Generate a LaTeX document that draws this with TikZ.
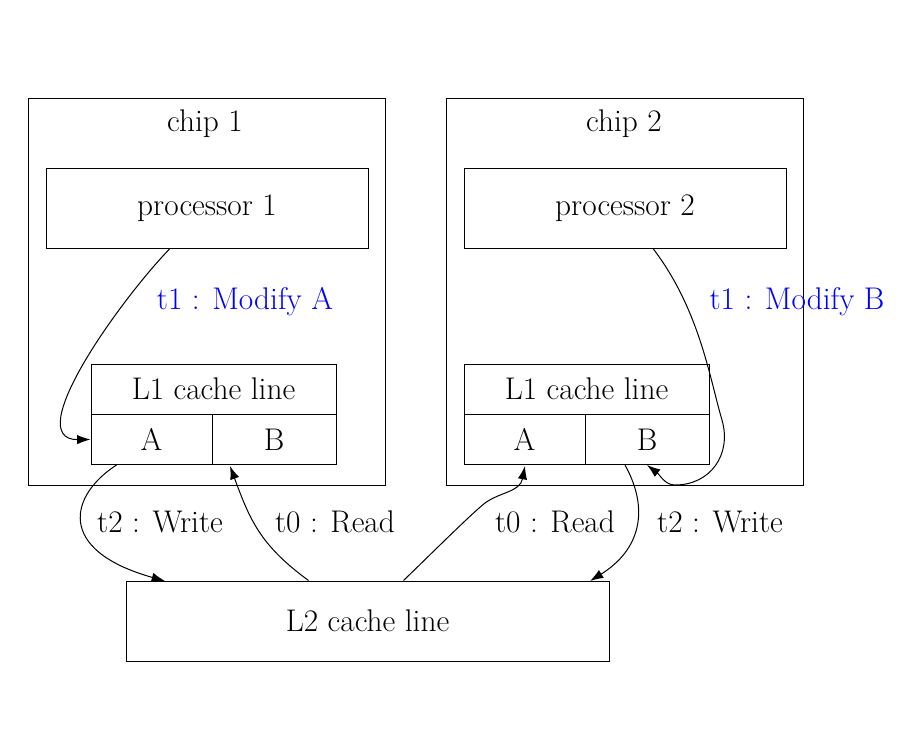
\documentclass[tikz,border=0pt]{standalone}
\usepackage{fontspec}
\setmainfont{Latin Modern Roman}
\usetikzlibrary{arrows.meta}
\begin{document}
\begin{tikzpicture}[x=0.75pt,y=-0.75pt,line width=0.75pt,
  every node/.style={font=\fontsize{23.5}{28}\selectfont},
  box/.style={draw,rectangle,inner sep=0pt,minimum height=60pt},
  cell/.style={draw,rectangle,inner sep=0pt,minimum height=37.5pt},
  arr/.style={-{Latex[length=10pt,width=7pt]}}]
\useasboundingbox (0,0) rectangle (921,750);
\draw (28,98) rectangle (385,485);
\draw (446,98) rectangle (803,485);
\node (c1) at (205,124) {chip 1};
\node (c2) at (624,124) {chip 2};
\node[box,minimum width=241.5pt] (p1) at (207,208) {processor 1};
\node[box,minimum width=241.5pt] (p2) at (625,208) {processor 2};
% L1 cache 1
\node[cell,minimum width=183.75pt] (h1) at (213.5,389) {L1 cache line};
\node[cell,minimum width=90.75pt] (a1) at (151.5,439.5) {A};
\node[cell,minimum width=93pt] (b1) at (274,439.5) {B};
% L1 cache 2
\node[cell,minimum width=183.75pt] (h2) at (586.5,389) {L1 cache line};
\node[cell,minimum width=90.75pt] (a2) at (524.5,439.5) {A};
\node[cell,minimum width=93pt] (b2) at (647,439.5) {B};
\node[box,minimum width=362.25pt] (l2) at (367.5,621) {L2 cache line};
% edges
\draw[arr] (p1.south) ++(-37,0) coordinate (s1) (s1) .. controls (120,300) and (20,440) .. (a1.west);
\node[text=blue] (m1) at (245,302) {t1 : Modify A};
\draw[arr] (p2.south) ++(28,0) coordinate (s2) (s2) .. controls (700,310) and (710,380) .. (722,420) .. controls (732,455) and (710,485) .. (675,485) .. controls (665,485) and (660,475) .. (b2.south);
\node[text=blue] (m2) at (797,302) {t1 : Modify B};
\draw[arr] (a1.south) ++(-35,0) coordinate (s3) (s3) .. controls (70,495) and (55,550) .. (165,581);
\node (w1) at (160,522) {t2 : Write};
\draw[arr] (l2.north) ++(-59,0) coordinate (s4) (s4) .. controls (260,545) and (250,520) .. (230,466);
\node (r1) at (335,522) {t0 : Read};
\draw[arr] (l2.north) ++(36,0) coordinate (s5) (s5) .. controls (430,555) and (470,515) .. (485,503) .. controls (500,492) and (520,492) .. (525,466);
\node (r2) at (555,522) {t0 : Read};
\draw[arr] (b2.south) ++(-22,0) coordinate (s6) (s6) .. controls (650,510) and (640,550) .. (590,581);
\node (w2) at (720,522) {t2 : Write};
\end{tikzpicture}
\end{document}
